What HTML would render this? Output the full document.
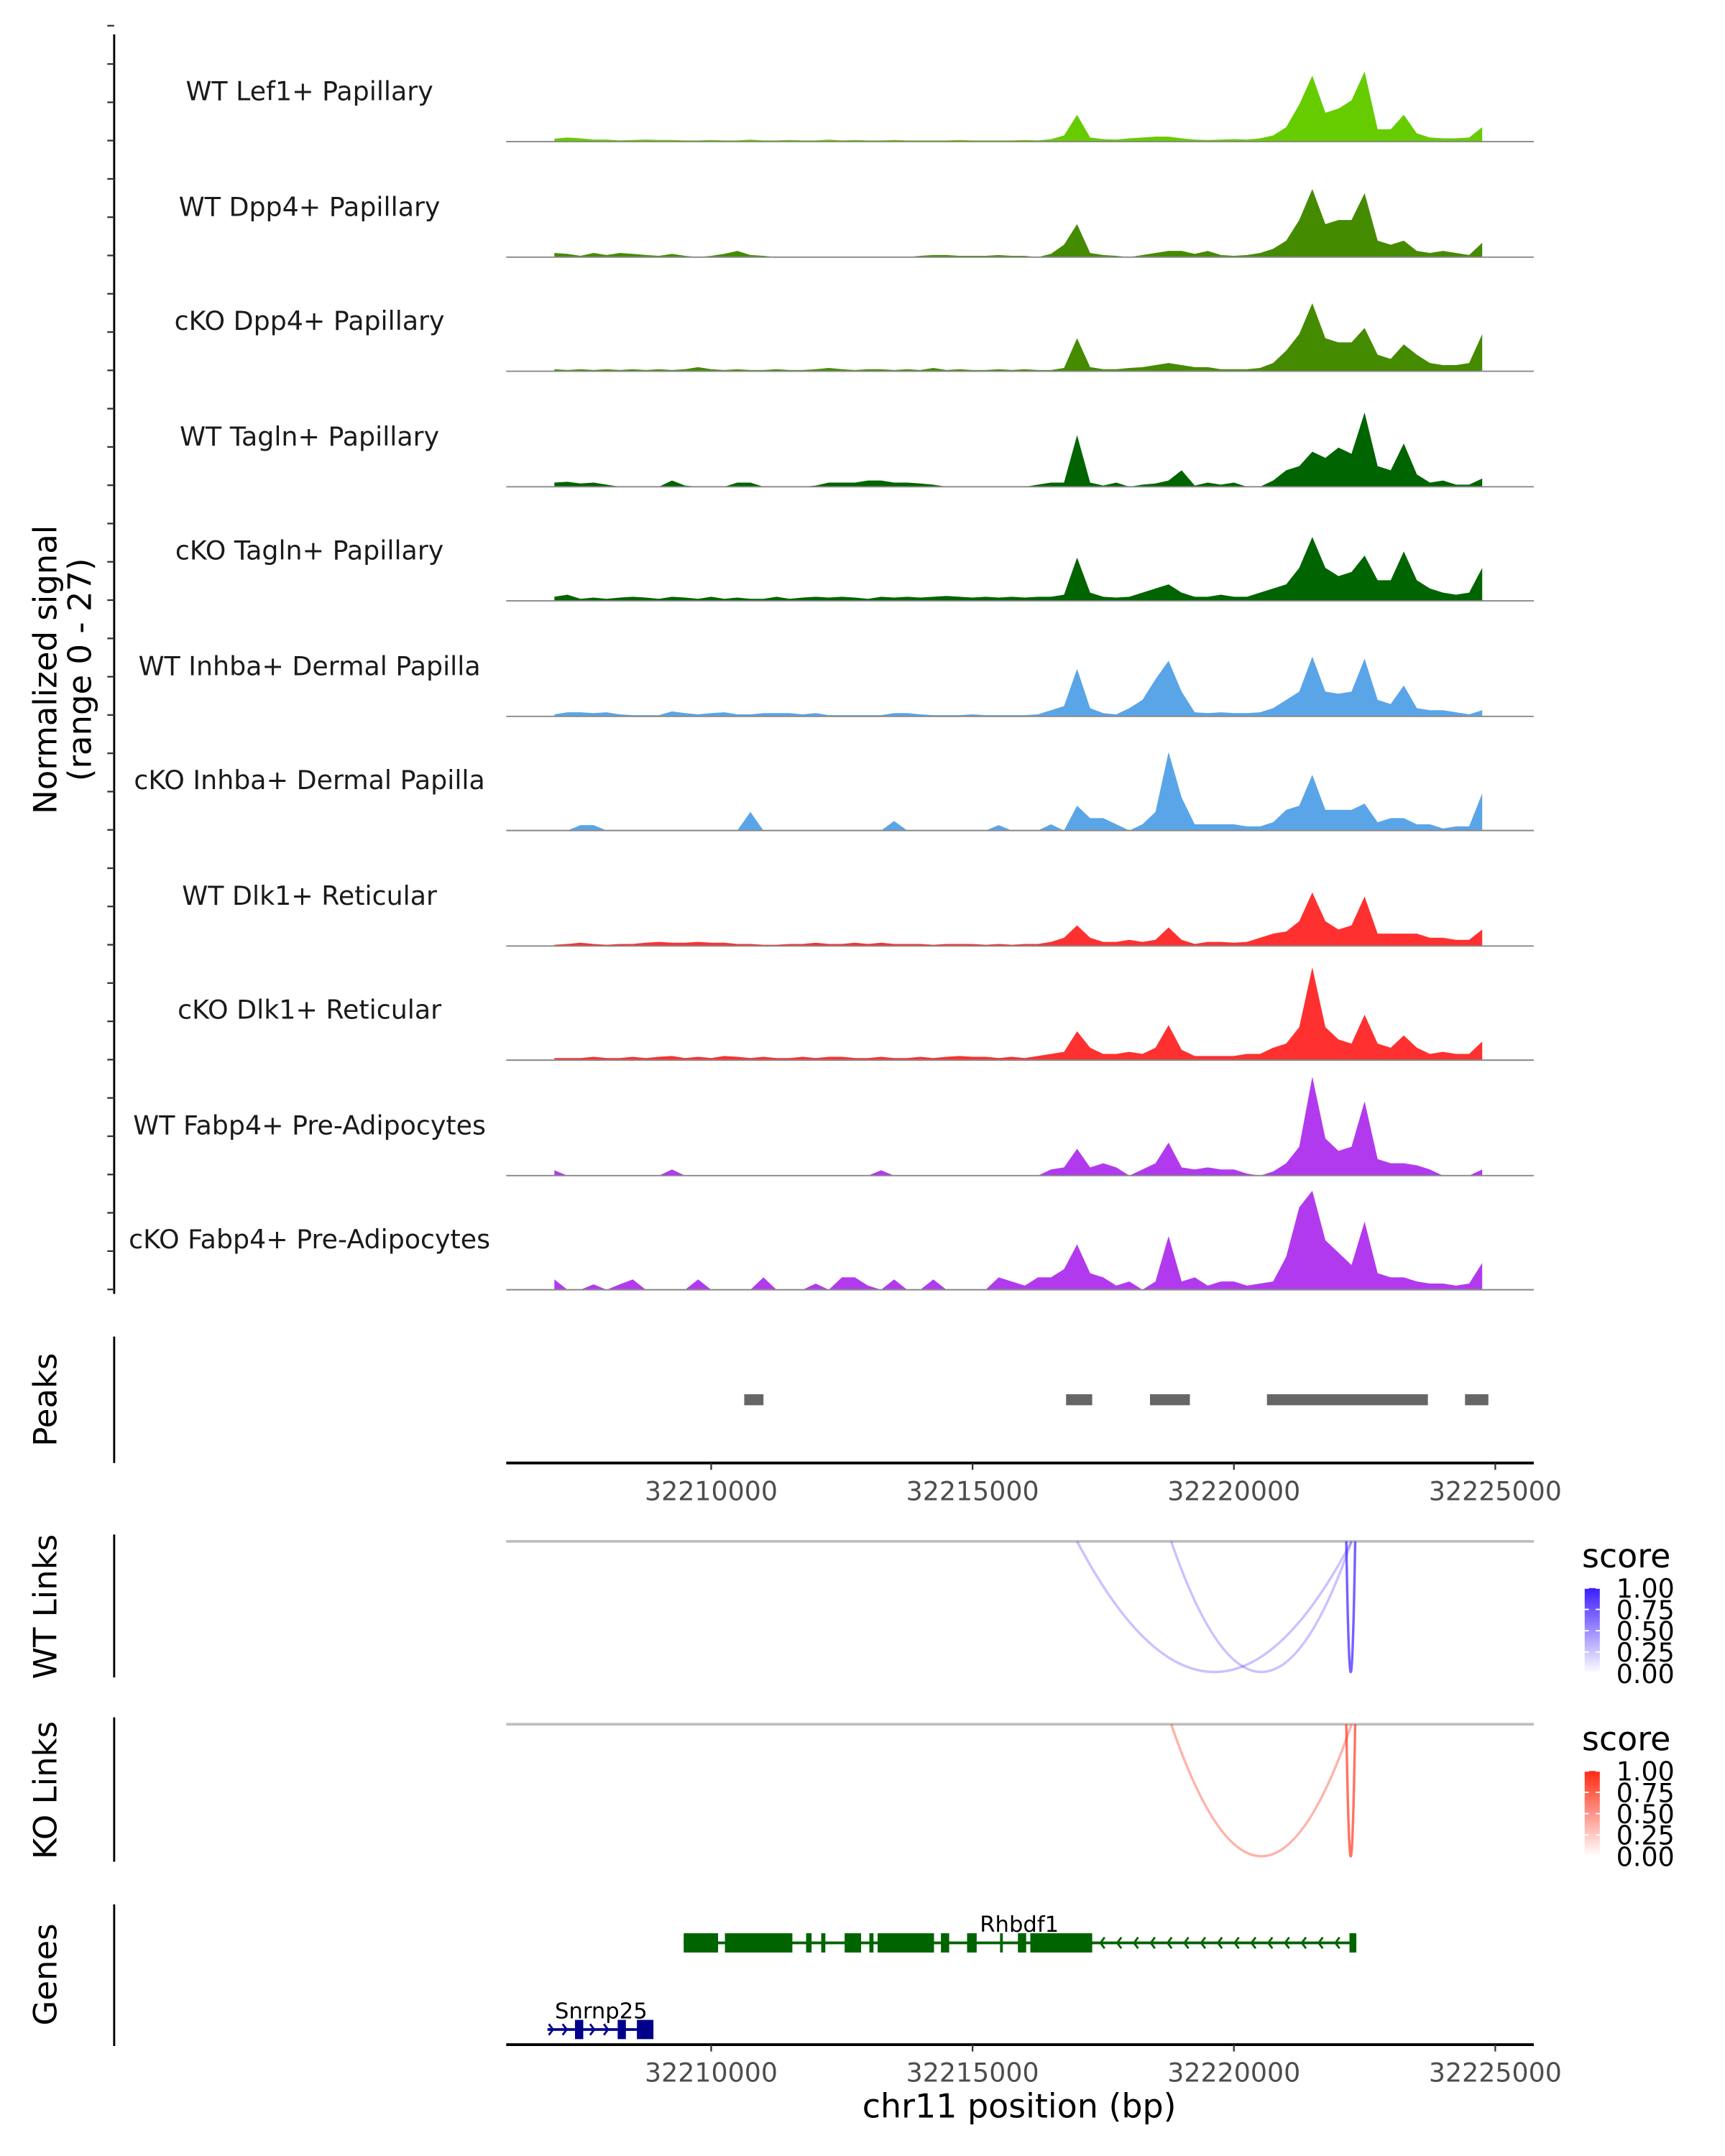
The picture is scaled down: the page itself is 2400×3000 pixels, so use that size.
<!DOCTYPE html>
<html><head><meta charset="utf-8"><style>
html,body{margin:0;padding:0;background:#fff;}
svg{display:block;font-family:"DejaVu Sans","Liberation Sans",sans-serif;}
</style></head><body>
<svg id="chart" width="2400" height="3000" viewBox="0 0 1254 1568" preserveAspectRatio="none" xmlns="http://www.w3.org/2000/svg"></svg>
<script>
// ---- data ----
const binStart = 32207000;
const binSize = 250;
const trackNames = ["WT Lef1+ Papillary","WT Dpp4+ Papillary","cKO Dpp4+ Papillary","WT Tagln+ Papillary","cKO Tagln+ Papillary","WT Inhba+ Dermal Papilla","cKO Inhba+ Dermal Papilla","WT Dlk1+ Reticular","cKO Dlk1+ Reticular","WT Fabp4+ Pre-Adipocytes","cKO Fabp4+ Pre-Adipocytes"];
const trackColors = ["#66cc00","#458b00","#458b00","#006400","#006400","#5aa5e8","#5aa5e8","#ff3030","#ff3030","#b23aee","#b23aee"];
const sigLef1 = [0.7,1,0.8,0.5,0.5,0.3,0.4,0.5,0.4,0.4,0.3,0.3,0.4,0.3,0.3,0.5,0.3,0.3,0.4,0.3,0.3,0.5,0.3,0.4,0.3,0.3,0.4,0.3,0.3,0.3,0.3,0.4,0.3,0.3,0.3,0.3,0.4,0.3,0.6,1.5,6.5,1,0.6,0.5,0.8,1,1.2,1.2,0.8,0.5,0.4,0.5,0.6,0.5,0.8,1.5,3.5,9,16,7,8,10,17,3,3,6.5,2,1,0.8,0.8,1,3.5];
const sigWtDpp4 = [1,0.8,0.3,1,0.5,1,0.8,0.5,0.3,0.8,0.3,0,0.3,0.8,1.5,0.5,0.3,0,0,0,0,0,0,0,0,0,0,0,0.3,0.5,0.5,0.3,0.3,0.3,0.5,0.3,0.3,0,0.8,3,8,1,0.5,0.3,0,0.5,1,1.5,1.5,0.8,1.5,0.5,0.3,0.5,1,2,4,9,16.5,8,9,9,15.5,4,3,4,1.5,1,1.5,1,0.5,3.5];
const sigKoDpp4 = [0.5,0.3,0.5,0.3,0.5,0.3,0.5,0.3,0.5,0.3,0.5,1,0.5,0.3,0.5,0.3,0.3,0.5,0.3,0.3,0.5,0.8,0.5,0.3,0.5,0.5,0.3,0.5,0.3,0.8,0.3,0.5,0.3,0.3,0.5,0.3,0.5,0.3,0.3,0.8,8,1,0.5,0.5,0.8,1,1.5,2,1.5,1,1,0.5,0.5,0.5,0.8,2,5,9,16.5,8,7,7,10.5,4,3,6.5,4,2,1.5,1.5,2,9];
const sigWtTagln = [1,1.2,0.8,1,0.5,0,0,0,0,1.5,0.3,0,0,0,1,1,0,0,0,0,0.3,1,1,1,1.5,1.5,1,1,0.8,0.5,0,0,0,0,0,0,0,0.5,1,1,12.5,1,0.3,1,0,0.5,0.8,1.5,4,0.3,1,0.5,1,0,0,1.5,4,5,8.5,7,9.5,8,18,5,4,10.5,3,1,1.5,0.5,0.5,2];
const sigKoTagln = [1,1.5,0.5,0.8,0.5,0.8,1,0.8,0.5,1,0.8,0.5,1,0.5,0.8,0.5,0.5,1,0.5,0.8,1,0.8,1,0.8,0.5,1,0.8,1,0.8,1,1.2,1,0.8,1,0.8,1,0.8,1,1,1.5,10.5,2,1,0.8,1,2,3,4,2,1,1,1.5,1,1,2,3,4,8,15.5,8,6,7,11,5,5,12,5,3,2,1.5,2,8];
const sigWtInhba = [0.5,1,1,0.8,1,0.5,0.3,0.3,0.3,1.2,0.8,0.5,0.8,1,0.5,0.5,0.8,0.8,0.8,0.5,0.8,0.3,0.3,0.3,0.3,0.3,0.8,0.8,0.5,0.3,0.3,0.3,0.5,0.3,0.3,0.3,0.3,0.5,1.5,2.5,11.5,2,0.8,0.5,2,4,9,13.5,6,1,0.8,1,0.8,0.8,1,2,4,6,14.5,6,5.5,6,14,4,3,7.5,2,1.5,1.5,1,0.5,1.5];
const sigKoInhba = [0,0,1.3,1.3,0,0,0,0,0,0,0,0,0,0,0,4.5,0,0,0,0,0,0,0,0,0,0,2.3,0,0,0,0,0,0,0,1.3,0,0,0,1.5,0,6,3,3,1.5,0,1.5,4.5,19,8,1.5,1.5,1.5,1.5,1,1,2,5,6,13.5,5,5,5,6.5,2,3,3,1.5,1.5,0.5,1,1,9];
const sigWtDlk1 = [0.3,0.5,0.8,0.5,0.3,0.5,0.5,0.8,1,0.8,0.8,1,0.8,0.8,0.5,0.5,0.3,0.3,0.5,0.5,0.8,0.5,0.5,0.8,0.5,0.8,0.5,0.5,0.5,0.3,0.5,0.5,0.5,0.3,0.5,0.3,0.5,0.5,1,2,5,2,1,1,1.5,1,1.5,4.5,1.5,0.5,1,1,0.8,1,2,3,3.5,6,13,6,4,5,12,3,3,3,3,2,2,1.5,1.5,4];
const sigKoDlk1 = [0.5,0.5,0.5,0.8,0.5,0.5,0.8,0.5,0.8,1,0.5,0.8,0.5,1,0.8,0.5,0.8,0.5,0.5,0.8,0.5,0.8,0.8,0.5,0.5,0.8,0.5,0.5,0.8,0.5,0.8,1,0.8,0.8,0.5,0.8,0.5,1,1.5,2,7,3,1.5,1.5,2,1.5,3,8.5,2.5,1,1,1,1,1.5,1.5,3,4,8,22.5,8,5,4,11,4,3,6,3,1.5,2,1.5,1.5,4.5];
const sigWtFabp4 = [1.3,0,0,0,0,0,0,0,0,1.5,0,0,0,0,0,0,0,0,0,0,0,0,0,0,0,1.3,0,0,0,0,0,0,0,0,0,0,0,0,1.5,2,6.5,2,3,2,0,1.5,3,8,2,1.5,2,1.5,1.5,0.5,0,1,3,7,24,9,6,7,18,4,3,3,2.5,1.5,0,0,0,1.5];
const sigKoFabp4 = [2.5,0,0,1.3,0,1.3,2.5,0,0,0,0,2.5,0,0,0,0,3,0,0,0,1.5,0,3,3,1,0,2.5,0,0,2.5,0,0,0,0,3,2,1,3,3,5,11,4,3,1,2,0,2,13,2,3,1,2,2,1,1.5,2,8,20,24,12,9,6,16.5,4,3,3,2,1.5,1.5,1,1.5,6.5];
const signals = [sigLef1,sigWtDpp4,sigKoDpp4,sigWtTagln,sigKoTagln,sigWtInhba,sigKoInhba,sigWtDlk1,sigKoDlk1,sigWtFabp4,sigKoFabp4];
const peakStarts = [32210632,32216789,32218395,32220632,32224421];
const peakEnds = [32211000,32217289,32219158,32223711,32224868];
const xTicks = [32210000,32215000,32220000,32225000];
const wtLinkStart = [32217000,32218800,32222150];
const wtLinkEnd = [32222250,32222250,32222320];
const wtLinkScore = [0.2,0.2,0.7];
const koLinkStart = [32218800,32222150];
const koLinkEnd = [32222250,32222320];
const koLinkScore = [0.3,0.65];
const legendTicks = ["1.00","0.75","0.50","0.25","0.00"];
const rhbdf1ExonStart = [32209474,32210263,32211816,32212105,32212553,32213026,32213184,32214395,32214895,32215526,32215868,32216105,32222211];
const rhbdf1ExonEnd = [32210132,32211553,32211921,32212184,32212868,32213105,32214263,32214553,32215079,32215579,32216026,32217289,32222342];
const rhbdf1Span = [32209474,32222342];
const snrnpExonStart = [32207395,32208211,32208579];
const snrnpExonEnd = [32207553,32208368,32208895];
const snrnpSpan = [32206868,32208895];

// ---- scales ----
const X0 = 517, BP0 = 32210000, PXBP = 0.038;
const xs = bp => X0 + (bp - BP0) * PXBP;
const PLOT_L = 368, PLOT_R = 1115;
const baselines = [103,187,270,354,437,521,604,688,771,855,938];
const ys = (v, base) => base - v * 3;

const svg = document.getElementById('chart');
const NS = 'http://www.w3.org/2000/svg';
function mk(tag, attrs, parent) {
  const e = document.createElementNS(NS, tag);
  for (const k in attrs) e.setAttribute(k, attrs[k]);
  (parent || svg).appendChild(e);
  return e;
}
function txt(s, attrs, parent) { const e = mk('text', attrs, parent); e.textContent = s; return e; }

// left axis of tracks
let el = mk('line', {x1:83,y1:25,x2:83,y2:941,stroke:'#000','stroke-width':1.5});


for (let t = 18.7; t <= 941; t += 27.85) {
  el = mk('line', {x1:78,y1:t,x2:83,y2:t,stroke:'#333','stroke-width':1.2});
  
  
}
el = txt('Normalized signal', {x:0,y:0,'font-size':23.5,'text-anchor':'middle',transform:'translate(41,487) rotate(-90)',fill:'#000'});


el = txt('(range 0 - 27)', {x:0,y:0,'font-size':23.5,'text-anchor':'middle',transform:'translate(66,487) rotate(-90)',fill:'#000'});



// tracks
signals.forEach((sig, ti) => {
  const base = baselines[ti];
  const g = mk('g', {});
  
  
  let d = 'M' + xs(binStart) + ',' + base;
  sig.forEach((v, i) => { d += ' L' + xs(binStart + i*binSize).toFixed(2) + ',' + ys(v, base).toFixed(2); });
  d += ' L' + xs(binStart + (sig.length-1)*binSize).toFixed(2) + ',' + base + ' Z';
  el = mk('path', {d:d, fill:trackColors[ti], stroke:'none'}, g);
  
  
  el = mk('line', {x1:PLOT_L,y1:base,x2:PLOT_R,y2:base,stroke:'#888','stroke-width':1}, g);
  
  
  el = txt(trackNames[ti], {x:225,y:base-30,'font-size':19,'text-anchor':'middle',fill:'#1a1a1a'}, g);
  
  
});

// peaks
el = mk('line', {x1:83,y1:972,x2:83,y2:1064,stroke:'#000','stroke-width':1.5});


el = txt('Peaks', {x:0,y:0,'font-size':23.5,'text-anchor':'middle',transform:'translate(41,1018) rotate(-90)'});


peakStarts.forEach((s, i) => {
  el = mk('rect', {x:xs(s),y:1014,width:xs(peakEnds[i])-xs(s),height:8,fill:'#666'});
  
  
});
function xAxis(y, name) {
  el = mk('line', {x1:PLOT_L,y1:y,x2:PLOT_R,y2:y,stroke:'#000','stroke-width':2});
  
  
  xTicks.forEach(t => {
    el = mk('line', {x1:xs(t),y1:y,x2:xs(t),y2:y+5,stroke:'#333','stroke-width':1.2});
    
    
    el = txt(String(t), {x:xs(t),y:y+27,'font-size':19,'text-anchor':'middle',fill:'#4d4d4d'});
    
    
  });
}
xAxis(1064, 'peaks-x-axis');

// links
function linkPanel(top, bottom, title, starts, ends, scores, color, gradId, legendName) {
  el = mk('line', {x1:83,y1:top-5,x2:83,y2:bottom+4,stroke:'#000','stroke-width':1.5});
  
  
  el = txt(title, {x:0,y:0,'font-size':23.5,'text-anchor':'middle',transform:'translate(41,'+((top+bottom)/2)+') rotate(-90)'});
  
  
  el = mk('line', {x1:PLOT_L,y1:top,x2:PLOT_R,y2:top,stroke:'#bebebe','stroke-width':2});
  
  
  starts.forEach((s, i) => {
    const x1 = xs(s), x2 = xs(ends[i]);
    const cy = 2*bottom - top;
    el = mk('path', {d:'M'+x1+','+top+' Q'+((x1+x2)/2)+','+cy+' '+x2+','+top,fill:'none',stroke:color,'stroke-opacity':0.1+0.85*scores[i],'stroke-width':1.8});
    
    
  });
  const defs = mk('defs', {});
  const lg = mk('linearGradient', {id:gradId,x1:0,y1:0,x2:0,y2:1}, defs);
  mk('stop', {offset:'0','stop-color':color}, lg);
  mk('stop', {offset:'1','stop-color':'#fff'}, lg);
  el = txt('score', {x:1150,y:top+19,'font-size':24,fill:'#000'});
  
  
  const ly0 = top + 34, ly1 = top + 96;
  el = mk('rect', {x:1152,y:ly0,width:11,height:ly1-ly0,fill:'url(#'+gradId+')'});
  
  
  legendTicks.forEach((lab, i) => {
    const yy = ly0 + (ly1-ly0)*i/4;
    el = txt(lab, {x:1175,y:yy+7,'font-size':19,fill:'#000'});
    
    
    mk('line', {x1:1152,y1:yy,x2:1155,y2:yy,stroke:'#fff','stroke-width':1});
    mk('line', {x1:1160,y1:yy,x2:1163,y2:yy,stroke:'#fff','stroke-width':1});
  });
}
linkPanel(1121, 1216, 'WT Links', wtLinkStart, wtLinkEnd, wtLinkScore, '#3a1dff', 'gwt', 'wt-links');
linkPanel(1254, 1350, 'KO Links', koLinkStart, koLinkEnd, koLinkScore, '#ff2a12', 'gko', 'ko-links');

// genes
el = mk('line', {x1:83,y1:1385,x2:83,y2:1488,stroke:'#000','stroke-width':1.5});


el = txt('Genes', {x:0,y:0,'font-size':23.5,'text-anchor':'middle',transform:'translate(41,1436) rotate(-90)'});


function gene(name, span, es, ee, y, color, dir, label, lx) {
  const g = mk('g', {});
  
  
  mk('line', {x1:xs(span[0]),y1:y,x2:xs(span[1]),y2:y,stroke:color,'stroke-width':2}, g);
  const a0 = dir < 0 ? xs(ee[ee.length-2]) + 6 : xs(span[0]) + 4;
  const a1 = dir < 0 ? xs(span[1]) - 8 : xs(span[1]);
  for (let x = a0; x < a1; x += (dir < 0 ? 12.2 : 10)) {
    const inEx = es.some((s, i) => x > xs(s)-2 && x < xs(ee[i])+2);
    if (inEx) continue;
    el = mk('path', {d: dir<0 ? 'M'+(x+3)+','+(y-4)+' L'+x+','+y+' L'+(x+3)+','+(y+4) : 'M'+(x-3)+','+(y-4)+' L'+x+','+y+' L'+(x-3)+','+(y+4), fill:'none', stroke:color,'stroke-width':1.5}, g);
    
    
  }
  es.forEach((s, i) => {
    el = mk('rect', {x:xs(s),y:y-7,width:Math.max(2,xs(ee[i])-xs(s)),height:14,fill:color}, g);
    
    
  });
  el = txt(label, {x:lx,y:y-8,'font-size':16,'text-anchor':'middle',fill:'#000'}, g);
  
  
}
gene('rhbdf1', rhbdf1Span, rhbdf1ExonStart, rhbdf1ExonEnd, 1413, '#006400', -1, 'Rhbdf1', 741);
gene('snrnp25', snrnpSpan, snrnpExonStart, snrnpExonEnd, 1476, '#00008b', 1, 'Snrnp25', 437);
xAxis(1487, 'genes-x-axis');
el = txt('chr11 position (bp)', {x:741,y:1540,'font-size':24,'text-anchor':'middle',fill:'#000'});


</script>
</body></html>
